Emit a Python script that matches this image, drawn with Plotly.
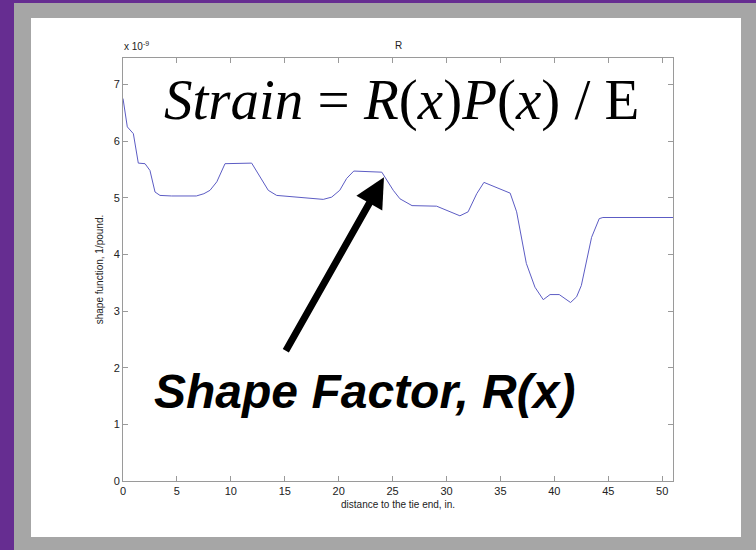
import plotly.graph_objects as go

# Shape function R(x) along the tie, in units of 1e-9 1/pound
distance_in = [0, 0.4, 0.96, 1.42, 2.04, 2.5, 2.97, 3.43, 4.5, 6.8, 7.5, 8.07, 8.7, 9.46,
               11.93, 12.86, 13.47, 14.25, 16.4, 18.57, 19.35, 20.1, 20.74, 21.4, 24.0,
               24.3, 25.06, 25.68, 26.8, 29.08, 30.0, 31.24, 32.0, 32.8, 33.47, 35.9,
               36.5, 37.4, 38.2, 38.97, 39.6, 40.45, 41.5, 42.06, 42.5, 43.45, 44.16,
               44.5, 51.0]
shape_fn = [6.75, 6.25, 6.13, 5.61, 5.60, 5.48, 5.10, 5.04, 5.03, 5.03, 5.07, 5.13, 5.28,
            5.60, 5.61, 5.31, 5.13, 5.04, 5.00, 4.97, 5.01, 5.13, 5.34, 5.47, 5.45,
            5.36, 5.13, 4.98, 4.86, 4.85, 4.78, 4.68, 4.75, 5.07, 5.27, 5.08,
            4.75, 3.84, 3.42, 3.20, 3.29, 3.29, 3.15, 3.25, 3.45, 4.30, 4.63,
            4.65, 4.65]

x_ticks = [0, 5, 10, 15, 20, 25, 30, 35, 40, 45, 50]
y_ticks = [0, 1, 2, 3, 4, 5, 6, 7]

# point the callout arrow at
arrow_x, arrow_y = 24.2, 5.36

W, H = 756, 550
L, R, T, B = 123, 83, 58, 69
pw, ph = W - L - R, H - T - B


def px_to_paper(px, py):
    return (px - L) / pw, (H - B - py) / ph


fig = go.Figure()
fig.add_trace(go.Scatter(x=distance_in, y=shape_fn, mode="lines",
                         line=dict(color="#5c5cc4", width=1), showlegend=False))

# slide frame: gray border and white panel behind the axes
gx0, gy0 = px_to_paper(14, 550)
gx1, gy1 = px_to_paper(756, 3)
wx0, wy0 = px_to_paper(31, 537)
wx1, wy1 = px_to_paper(741, 18)
shapes = [
    dict(type="rect", xref="paper", yref="paper", x0=gx0, y0=gy0, x1=gx1, y1=gy1,
         fillcolor="#a6a6a6", line=dict(width=0), layer="below"),
    dict(type="rect", xref="paper", yref="paper", x0=wx0, y0=wy0, x1=wx1, y1=wy1,
         fillcolor="white", line=dict(width=0), layer="below"),
]

axis_common = dict(showline=True, linecolor="#9a9a9a", linewidth=1, mirror="ticks",
                   ticks="inside", ticklen=5, tickcolor="#9a9a9a", showgrid=False,
                   zeroline=False, tickfont=dict(family="Liberation Sans, Arial", size=11,
                                                 color="#222222"))

ex_x, ex_y = px_to_paper(122, 46)
fx, fy = px_to_paper(401, 134)
sx, sy = px_to_paper(364, 420)
tx, ty = px_to_paper(398, 45)

annotations = [
    dict(xref="paper", yref="paper", x=ex_x, y=ex_y, xanchor="left", yanchor="middle",
         text="x 10<sup>-9</sup>", showarrow=False,
         font=dict(family="Liberation Sans, Arial", size=10, color="#222222")),
    dict(xref="paper", yref="paper", x=tx, y=ty, xanchor="center", yanchor="middle",
         text="R", showarrow=False,
         font=dict(family="Liberation Sans, Arial", size=10, color="#222222")),
    dict(xref="paper", yref="paper", x=fx, y=fy, xanchor="center", yanchor="bottom",
         text="<i>Strain</i> = <i>R</i>(<i>x</i>)<i>P</i>(<i>x</i>) / E", showarrow=False,
         font=dict(family="Liberation Serif, Times New Roman", size=57, color="black")),
    dict(xref="paper", yref="paper", x=sx, y=sy, xanchor="center", yanchor="bottom",
         text="<b><i>Shape Factor, R(x)</i></b>", showarrow=False,
         font=dict(family="Liberation Sans, Arial", size=48, color="black")),
    dict(x=arrow_x, y=arrow_y, xref="x", yref="y", text="", showarrow=True,
         ax=-99, ay=175, axref="pixel", ayref="pixel", arrowhead=2, arrowsize=0.85,
         arrowwidth=7, arrowcolor="black", standoff=0),
]

fig.update_layout(
    width=W, height=H, margin=dict(l=L, r=R, t=T, b=B, pad=0),
    paper_bgcolor="#662d91", plot_bgcolor="white",
    shapes=shapes, annotations=annotations,
    xaxis=dict(range=[0, 51], tickvals=x_ticks, **axis_common,
               title=dict(text="distance to the tie end, in.", standoff=4,
                          font=dict(family="Liberation Sans, Arial", size=10, color="#222222"))),
    yaxis=dict(range=[0, 7.465], tickvals=y_ticks, **axis_common,
               title=dict(text="shape function, 1/pound.", standoff=8,
                          font=dict(family="Liberation Sans, Arial", size=10, color="#222222"))),
)

fig.write_html("out.html", config={"displayModeBar": False})
